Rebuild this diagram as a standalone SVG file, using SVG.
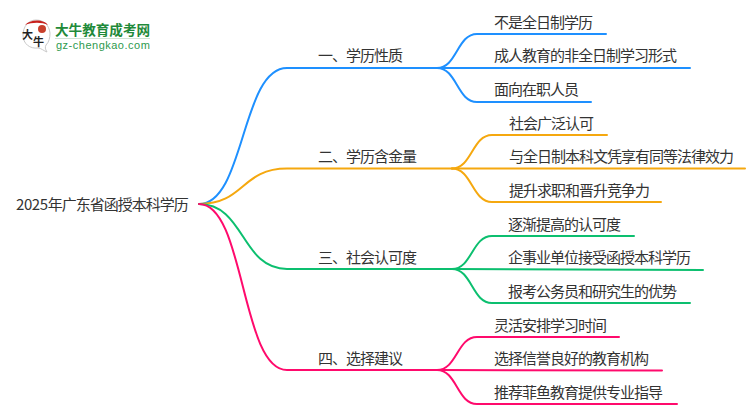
<svg xmlns="http://www.w3.org/2000/svg" width="750" height="410" viewBox="0 0 750 410">
<style>
text{font-family:"Noto Sans CJK SC","Noto Sans",sans-serif;font-size:15px;letter-spacing:-1px;fill:#333}
#connectors path{fill:none;stroke-width:2;stroke-linecap:round}
.a path{stroke:#1e90ff}.b path{stroke:#f5a80f}.c path{stroke:#0cbf6f}.d path{stroke:#ff0a6c}
</style>
<rect width="750" height="410" fill="#fff"/>
<g id="logo">
<path d="M36 20C28 20 23 27 23 35C23 44 30 49 38 48C41 48 44 51 47 52C45 49 45 47 46 45C49 42 50 38 50 33C49 25 44 20 36 20Z" fill="#fff" stroke="#c9c9c9" stroke-width="1"/>
<path d="M25 25C30 19 44 19 48 25C42 22 32 22 25 25Z" fill="#c8201c"/>
<circle cx="42" cy="29" r="4" fill="#c8402c"/>
<text x="22" y="39" style="font-size:11px;letter-spacing:0;fill:#222;font-weight:700">大</text>
<text x="33" y="46" style="font-size:11px;letter-spacing:0;fill:#222;font-weight:700">牛</text>
<text x="55" y="35" style="font-size:13.6px;letter-spacing:0;font-weight:700;fill:#1f8a3a">大牛教育成考网</text>
<rect x="55" y="38" width="95" height="1" fill="#cfe3d4"/>
<text x="56" y="49" style="font-size:11px;font-family:'Liberation Sans',sans-serif;fill:#2e9a4e;letter-spacing:.5px">gz-chengkao.com</text>
</g>
<g id="connectors">
<g class="a"><path d="M199 204C245 204 241 68 287 68L437 68"/><path d="M437 68C457 68 457 34 477 34L606 34"/><path d="M437 68L690 68"/><path d="M437 68C457 68 457 102 477 102L591 102"/></g>
<g class="b"><path d="M199 204C245 204 241 168.500 287 168.500L452 168.500"/><path d="M452 168.500C472 168.500 472 135 492 135L607 135"/><path d="M452 168.500L745 168.500"/><path d="M452 168.500C472 168.500 472 202 492 202L661 202"/></g>
<g class="c"><path d="M199 204C245 204 241 269 287 269L452 269"/><path d="M452 269C472 269 472 236 492 236L634 236"/><path d="M452 269L703 270"/><path d="M452 269C472 269 472 303 492 303L690 303"/></g>
<g class="d"><path d="M199 204C245 204 241 370 287 370L437 370"/><path d="M437 370C457 370 457 337 477 337L619 337"/><path d="M437 370L662 370.500"/><path d="M437 370C457 370 457 404 477 404L677 404"/></g>
</g>
<g id="root"><text x="16" y="209.500"><tspan style="letter-spacing:-.4px">2025</tspan>年广东省函授本科学历</text></g>
<g id="n1"><text x="318" y="61">一、学历性质</text></g>
<g id="n1-1"><text x="494" y="27.500">不是全日制学历</text></g>
<g id="n1-2"><text x="494" y="61">成人教育的非全日制学习形式</text></g>
<g id="n1-3"><text x="494" y="94.500">面向在职人员</text></g>
<g id="n2"><text x="318" y="162">二、学历含金量</text></g>
<g id="n2-1"><text x="509" y="128.500">社会广泛认可</text></g>
<g id="n2-2"><text x="509" y="162">与全日制本科文凭享有同等法律效力</text></g>
<g id="n2-3"><text x="509" y="195.500">提升求职和晋升竞争力</text></g>
<g id="n3"><text x="318" y="263">三、社会认可度</text></g>
<g id="n3-1"><text x="508" y="229.500">逐渐提高的认可度</text></g>
<g id="n3-2"><text x="508" y="263">企事业单位接受函授本科学历</text></g>
<g id="n3-3"><text x="508" y="296.500">报考公务员和研究生的优势</text></g>
<g id="n4"><text x="318" y="364">四、选择建议</text></g>
<g id="n4-1"><text x="494" y="330.500">灵活安排学习时间</text></g>
<g id="n4-2"><text x="494" y="364">选择信誉良好的教育机构</text></g>
<g id="n4-3"><text x="494" y="397.500">推荐菲鱼教育提供专业指导</text></g>
</svg>
